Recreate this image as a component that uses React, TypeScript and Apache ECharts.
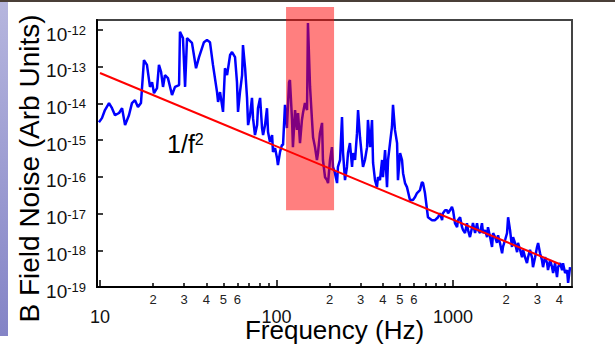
import React, { useEffect, useRef } from "react";
import * as echarts from "echarts";

// log10 of frequency (Hz) of each measured point
const freqLog10 = [
  0.994, 1.011, 1.028, 1.051, 1.068, 1.085, 1.108, 1.125, 1.142, 1.164,
  1.181, 1.198, 1.215, 1.232, 1.249, 1.266, 1.283, 1.295, 1.306, 1.323,
  1.334, 1.346, 1.357, 1.368, 1.385, 1.408, 1.425, 1.448, 1.453, 1.47,
  1.482, 1.493, 1.521, 1.544, 1.561, 1.589, 1.606, 1.623, 1.64, 1.663,
  1.669, 1.68, 1.697, 1.708, 1.72, 1.737, 1.748, 1.765, 1.776, 1.782,
  1.793, 1.805, 1.81, 1.822, 1.833, 1.839, 1.85, 1.861, 1.867, 1.878,
  1.89, 1.895, 1.907, 1.918, 1.924, 1.935, 1.946, 1.952, 1.963, 1.975,
  1.98, 1.992, 2.003, 2.008, 2.02, 2.031, 2.037, 2.048, 2.059, 2.071,
  2.076, 2.088, 2.093, 2.105, 2.116, 2.122, 2.133, 2.144, 2.15, 2.161,
  2.173, 2.178, 2.19, 2.201, 2.207, 2.218, 2.229, 2.235, 2.246, 2.258,
  2.263, 2.275, 2.286, 2.292, 2.303, 2.314, 2.32, 2.331, 2.343, 2.348,
  2.36, 2.371, 2.377, 2.388, 2.399, 2.405, 2.416, 2.428, 2.433, 2.445,
  2.456, 2.462, 2.473, 2.484, 2.49, 2.501, 2.513, 2.518, 2.53, 2.541,
  2.547, 2.558, 2.569, 2.575, 2.586, 2.598, 2.603, 2.615, 2.626, 2.632,
  2.643, 2.654, 2.66, 2.671, 2.683, 2.688, 2.7, 2.711, 2.717, 2.728,
  2.739, 2.756, 2.773, 2.785, 2.796, 2.813, 2.824, 2.83, 2.841, 2.853,
  2.858, 2.881, 2.898, 2.915, 2.926, 2.938, 2.943, 2.955, 2.966, 2.972,
  2.983, 2.994, 3.0, 3.011, 3.023, 3.028, 3.04, 3.051, 3.057, 3.068,
  3.079, 3.085, 3.096, 3.108, 3.113, 3.125, 3.136, 3.142, 3.153, 3.164,
  3.17, 3.181, 3.193, 3.198, 3.21, 3.221, 3.227, 3.238, 3.249, 3.255,
  3.266, 3.278, 3.283, 3.295, 3.306, 3.312, 3.323, 3.334, 3.34, 3.351,
  3.363, 3.368, 3.38, 3.391, 3.397, 3.408, 3.419, 3.425, 3.436, 3.448,
  3.453, 3.465, 3.476, 3.482, 3.493, 3.504, 3.51, 3.521, 3.533, 3.538,
  3.55, 3.561, 3.567, 3.578, 3.589, 3.595, 3.606, 3.618, 3.623, 3.635,
  3.646, 3.652, 3.663,
];

// log10 of B field noise (arb units) of each measured point
const noiseLog10 = [
  -14.51, -14.4, -14.18, -13.99, -14.13, -14.32, -14.26, -14.13, -14.59, -14.32,
  -13.99, -13.91, -14.1, -13.99, -12.82, -12.95, -13.55, -13.42, -13.72, -13.58,
  -12.95, -13.14, -13.55, -13.23, -13.31, -13.77, -13.55, -13.5, -12.05, -12.22,
  -13.55, -12.22, -12.35, -13.04, -12.74, -12.33, -12.27, -12.33, -12.95, -13.69,
  -13.96, -13.69, -14.23, -13.04, -13.23, -12.68, -12.6, -12.74, -13.42, -14.23,
  -13.69, -13.23, -12.41, -13.04, -13.85, -14.59, -14.32, -13.85, -14.4, -14.86,
  -14.59, -14.13, -13.85, -14.67, -14.86, -14.59, -14.13, -14.78, -15.05, -14.86,
  -15.32, -15.22, -15.49, -15.68, -15.32, -15.13, -15.13, -14.04, -14.67, -13.42,
  -13.36, -14.45, -15.19, -14.18, -14.72, -14.26, -15.08, -14.45, -14.26, -13.99,
  -14.18, -11.81, -13.55, -14.45, -14.92, -15.19, -15.54, -15.35, -14.81, -14.53,
  -15.54, -16.01, -16.09, -16.17, -15.54, -15.19, -15.73, -15.9, -16.17, -15.73,
  -15.54, -14.37, -15.35, -16.09, -15.73, -15.35, -15.08, -15.73, -15.35, -15.54,
  -14.81, -14.18, -14.92, -15.46, -15.73, -15.54, -15.19, -14.45, -15.19, -14.45,
  -15.62, -16.09, -16.28, -16.01, -16.09, -15.54, -16.01, -15.27, -16.28, -15.54,
  -15.08, -14.64, -14.04, -14.72, -15.08, -16.09, -15.35, -15.54, -15.9, -16.17,
  -16.28, -16.63, -16.63, -16.55, -16.44, -16.36, -16.14, -16.17, -16.44, -16.91,
  -17.1, -17.18, -17.18, -17.1, -16.99, -17.18, -16.99, -16.91, -16.91, -16.99,
  -16.91, -16.82, -16.91, -17.26, -17.37, -17.18, -17.1, -17.37, -17.45, -17.53,
  -17.26, -17.45, -17.64, -17.37, -17.26, -17.53, -17.26, -17.45, -17.53, -17.26,
  -17.53, -17.45, -17.64, -17.37, -17.64, -17.91, -17.53, -17.64, -17.8, -17.59,
  -17.8, -18.08, -17.91, -17.72, -17.53, -17.1, -17.45, -17.91, -17.64, -17.8,
  -18.05, -17.8, -17.99, -18.19, -17.99, -18.19, -18.35, -18.19, -17.99, -18.21,
  -18.46, -18.19, -17.91, -17.8, -18.08, -18.27, -18.46, -18.19, -18.35, -18.54,
  -18.27, -18.46, -18.62, -18.35, -18.73, -18.46, -18.35, -18.54, -18.35, -18.62,
  -18.54, -18.89, -18.46,
];

// 1/f^2 reference line end points (log10 Hz, log10 noise)
const fitFreqLog10 = [1.0, 3.606];
const fitNoiseLog10 = [-13.17, -18.38];

// highlighted band (log10 Hz, log10 noise)
const bandFreqLog10 = [2.054, 2.326];
const bandNoiseLog10 = [-16.91, -11.37];

// "1/f^2" label anchor (log10 Hz, log10 noise)
const slopeLabelAt = [1.38, -15.11];

// axis ticks
const yTickExponents = [-19, -18, -17, -16, -15, -14, -13, -12];
const xMajorTicks = [10, 100, 1000];
const xMinorTicks = [
  20, 30, 40, 50, 60, 70, 80, 90,
  200, 300, 400, 500, 600, 700, 800, 900,
  2000, 3000, 4000,
];
const xMinorLabels = [20, 30, 40, 50, 60, 200, 300, 400, 500, 600, 2000, 3000, 4000];

const X_MIN = 0.983;
const X_MAX = 3.674;
const Y_MIN = -19;
const Y_MAX = -11.727;

const FONT = "'Liberation Sans', Arial, sans-serif";

export default function App() {
  const ref = useRef<HTMLDivElement>(null);

  useEffect(() => {
    if (!ref.current) return;
    const chart = echarts.init(ref.current, undefined, { renderer: "svg" });

    const xCommon = {
      type: "value" as const,
      min: X_MIN,
      max: X_MAX,
      position: "bottom" as const,
      splitLine: { show: false },
    };

    chart.setOption({
      animation: false,
      grid: {
        left: 97,
        right: 43,
        top: 20,
        bottom: 60,
        containLabel: false,
        outerBoundsMode: "none",
        show: true,
        borderColor: "#444",
        borderWidth: 2,
        backgroundColor: "#fff",
      },
      xAxis: [
        {
          ...xCommon,
          axisLine: { show: true, onZero: false, lineStyle: { color: "#000", width: 2 } },
          axisTick: {
            show: true,
            inside: true,
            length: 4,
            lineStyle: { color: "#000", width: 1.5 },
            customValues: xMinorTicks.map((v) => Math.log10(v)),
          },
          axisLabel: {
            customValues: xMinorLabels.map((v) => Math.log10(v)),
            formatter: (v: number) =>
              String(Math.round(Math.pow(10, v) / Math.pow(10, Math.floor(v + 1e-9)))),
            fontSize: 13,
            color: "#222",
            fontFamily: FONT,
            margin: 6,
          },
        },
        {
          ...xCommon,
          axisLine: { show: false },
          axisTick: {
            show: true,
            inside: true,
            length: 7,
            lineStyle: { color: "#000", width: 1.5 },
            customValues: xMajorTicks.map((v) => Math.log10(v)),
          },
          axisLabel: {
            customValues: xMajorTicks.map((v) => Math.log10(v)),
            formatter: (v: number) => String(Math.round(Math.pow(10, v))),
            fontSize: 18,
            color: "#111",
            fontFamily: FONT,
            margin: 21,
          },
          name: "Frequency (Hz)",
          nameLocation: "middle",
          nameGap: 30,
          nameMoveOverlap: false,
          nameTextStyle: { fontSize: 26, color: "#000", fontFamily: FONT },
        },
      ],
      yAxis: {
        type: "value",
        min: Y_MIN,
        max: Y_MAX,
        splitLine: { show: false },
        axisLine: { show: true, onZero: false, lineStyle: { color: "#000", width: 2 } },
        axisTick: {
          show: true,
          inside: true,
          length: 6,
          lineStyle: { color: "#000", width: 1.5 },
          customValues: yTickExponents,
        },
        axisLabel: {
          customValues: yTickExponents,
          formatter: (v: number) => `{b|10}{s|${v}}`,
          margin: 11,
          padding: [8, 0, 0, 0],
          rich: {
            b: { fontSize: 19, lineHeight: 20, color: "#111", fontFamily: FONT },
            s: { fontSize: 13, lineHeight: 2, verticalAlign: "top", color: "#111", fontFamily: FONT },
          },
        },
        name: "B Field Noise (Arb Units)",
        nameLocation: "middle",
        nameGap: 54,
        nameMoveOverlap: false,
        nameTextStyle: { fontSize: 28, color: "#000", fontFamily: FONT, padding: [0, 30, 0, 0] },
      },
      series: [
        {
          type: "line",
          xAxisIndex: 0,
          data: freqLog10.map((f, i) => [f, noiseLog10[i]]),
          showSymbol: false,
          symbol: "none",
          lineStyle: { color: "#0000ff", width: 2.5 },
          z: 2,
        },
        {
          type: "line",
          xAxisIndex: 0,
          data: fitFreqLog10.map((f, i) => [f, fitNoiseLog10[i]]),
          showSymbol: false,
          symbol: "none",
          lineStyle: { color: "#ff0000", width: 2 },
          z: 3,
        },
      ],
    });

    const p0 = chart.convertToPixel({ gridIndex: 0 }, [bandFreqLog10[0], bandNoiseLog10[0]]) as number[];
    const p1 = chart.convertToPixel({ gridIndex: 0 }, [bandFreqLog10[1], bandNoiseLog10[1]]) as number[];
    const t = chart.convertToPixel({ gridIndex: 0 }, slopeLabelAt) as number[];

    chart.setOption({
      graphic: [
        {
          type: "rect",
          z: 100,
          shape: {
            x: Math.min(p0[0], p1[0]),
            y: Math.min(p0[1], p1[1]),
            width: Math.abs(p1[0] - p0[0]),
            height: Math.abs(p1[1] - p0[1]),
          },
          style: { fill: "rgba(255,0,0,0.5)", stroke: "none" },
          silent: true,
        },
        {
          type: "text",
          z: 100,
          x: t[0],
          y: t[1],
          style: {
            text: "{b|1/f}{s|2}",
            verticalAlign: "middle",
            align: "left",
            rich: {
              b: { fontSize: 25, lineHeight: 26, fill: "#000", fontFamily: FONT },
              s: { fontSize: 16, lineHeight: 4, verticalAlign: "top", fill: "#000", fontFamily: FONT },
            },
          },
        },
      ],
    });

    return () => chart.dispose();
  }, []);

  return (
    <div
      style={{
        position: "fixed",
        left: 0,
        top: 0,
        width: 615,
        height: 347,
        background: "#fff",
        overflow: "hidden",
      }}
    >
      <div
        style={{
          position: "absolute",
          left: 0,
          top: 0,
          width: 8,
          height: 336,
          background: "linear-gradient(#b6b6de, #8484c6)",
        }}
      />
      <div
        style={{
          position: "absolute",
          left: 0,
          top: 0,
          width: 615,
          height: 2,
          background: "#4a3f38",
        }}
      />
      <div ref={ref} style={{ position: "absolute", left: 0, top: 0, width: 615, height: 347 }} />
    </div>
  );
}
